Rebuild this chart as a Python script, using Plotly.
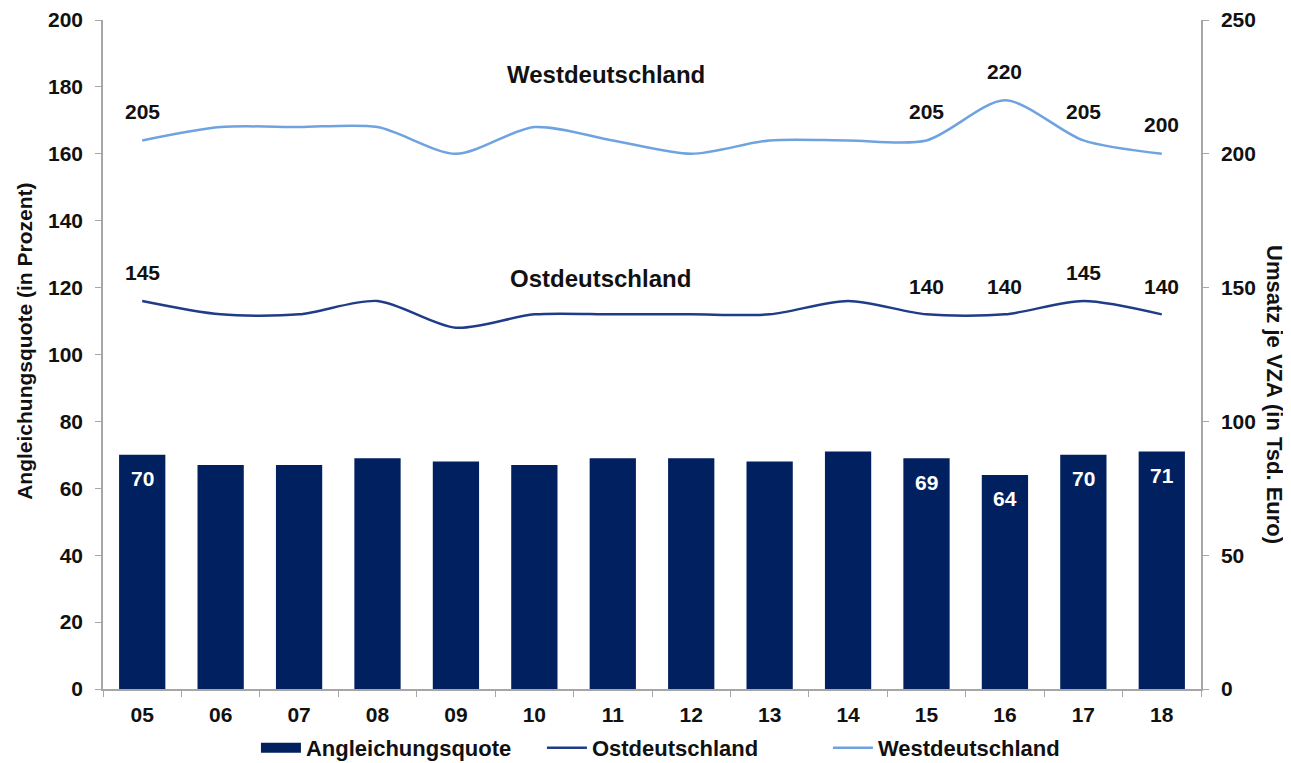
import plotly.graph_objects as go

jahre = ["05", "06", "07", "08", "09", "10", "11", "12", "13", "14", "15", "16", "17", "18"]
angleichungsquote = [70, 67, 67, 69, 68, 67, 69, 69, 68, 71, 69, 64, 70, 71]
ostdeutschland = [145, 140, 140, 145, 135, 140, 140, 140, 140, 145, 140, 140, 145, 140]
westdeutschland = [205, 210, 210, 210, 200, 210, 205, 200, 205, 205, 205, 220, 205, 200]

# nur diese Jahre bekommen Datenbeschriftungen
beschriftet = ["05", "15", "16", "17", "18"]

FONT = "Liberation Sans"
NAVY = "#002060"
OST = "#1F3C88"
WEST = "#6FA3E0"
AXIS = "#A6A6A6"


def bold(size, color="#111"):
    return {"family": FONT, "size": size, "color": color, "weight": "bold"}


fig = go.Figure()
fig.add_trace(go.Bar(
    x=jahre, y=angleichungsquote, name="Angleichungsquote",
    marker={"color": NAVY, "line": {"width": 0}},
    showlegend=False, yaxis="y",
))
# Legendeneintrag als breites Rechteck wie im Original
fig.add_trace(go.Scatter(
    x=[None], y=[None], name="Angleichungsquote", mode="lines",
    line={"color": NAVY, "width": 13}, yaxis="y",
))
fig.add_trace(go.Scatter(
    x=jahre, y=ostdeutschland, name="Ostdeutschland", mode="lines",
    line={"color": OST, "width": 2.5, "shape": "spline", "smoothing": 0.8},
    yaxis="y2",
))
fig.add_trace(go.Scatter(
    x=jahre, y=westdeutschland, name="Westdeutschland", mode="lines",
    line={"color": WEST, "width": 2.5, "shape": "spline", "smoothing": 0.8},
    yaxis="y2",
))

annos = []
# Why: Kategorie-Achse — Annotation-x als Index, sonst wird "05" als Zahl 5 gelesen
for i, (j, o, w, q) in enumerate(zip(jahre, ostdeutschland, westdeutschland, angleichungsquote)):
    if j not in beschriftet:
        continue
    annos.append(dict(x=i, y=w, xref="x", yref="y2", text=str(w),
                      showarrow=False, yshift=29, font=bold(21)))
    annos.append(dict(x=i, y=o, xref="x", yref="y2", text=str(o),
                      showarrow=False, yshift=28, font=bold(21)))
    annos.append(dict(x=i, y=q, xref="x", yref="y", text=str(q),
                      showarrow=False, yshift=-24, font=bold(21, "white")))

annos += [
    dict(x=0.458, y=0.919, xref="paper", yref="paper", text="Westdeutschland",
         xanchor="center", yanchor="middle", showarrow=False, font=bold(24)),
    dict(x=0.453, y=0.614, xref="paper", yref="paper", text="Ostdeutschland",
         xanchor="center", yanchor="middle", showarrow=False, font=bold(24)),
    # Achsentitel als Annotationen, damit Lage/Drehung wie im Original
    dict(x=-0.071, y=0.519, xref="paper", yref="paper", text="Angleichungsquote (in Prozent)",
         xanchor="center", yanchor="middle", showarrow=False, textangle=-90, font=bold(21)),
    dict(x=1.067, y=0.44, xref="paper", yref="paper", text="Umsatz je VZÄ (in Tsd. Euro)",
         xanchor="center", yanchor="middle", showarrow=False, textangle=90, font=bold(22)),
]

tick_font = bold(21)

# Why: die Seite hat 8px Body-Rand -> Figur um 8px kleiner, Ränder entsprechend versetzt
fig.update_layout(
    width=1283, height=755,
    margin={"l": 95, "r": 90, "t": 12, "b": 74},
    paper_bgcolor="white", plot_bgcolor="white",
    bargap=0.41,
    showlegend=True,
    legend={"orientation": "h", "x": 0.530, "xanchor": "center",
            "yref": "container", "y": 0.02, "yanchor": "middle",
            "font": bold(22), "itemwidth": 40,
            "entrywidth": 231, "entrywidthmode": "pixels"},
    xaxis={
        "type": "category", "showline": True, "linecolor": AXIS, "linewidth": 1.5,
        "ticks": "outside", "tickson": "boundaries", "ticklen": 6, "tickcolor": AXIS,
        "tickfont": tick_font, "showgrid": False, "ticklabelstandoff": 6,
        "automargin": False,
    },
    yaxis={
        "range": [0, 200], "dtick": 20, "showline": True, "linecolor": AXIS, "linewidth": 1.5,
        "ticks": "outside", "ticklen": 6, "tickcolor": AXIS, "tickfont": tick_font,
        "showgrid": False, "zeroline": False, "ticklabelstandoff": 8,
        "automargin": False,
    },
    yaxis2={
        "range": [0, 250], "dtick": 50, "overlaying": "y", "side": "right",
        "showline": True, "linecolor": AXIS, "linewidth": 1.5,
        "ticks": "outside", "ticklen": 6, "tickcolor": AXIS, "tickfont": tick_font,
        "showgrid": False, "zeroline": False, "ticklabelstandoff": 8,
        "automargin": False,
    },
    annotations=annos,
)

fig.write_html("out.html")
